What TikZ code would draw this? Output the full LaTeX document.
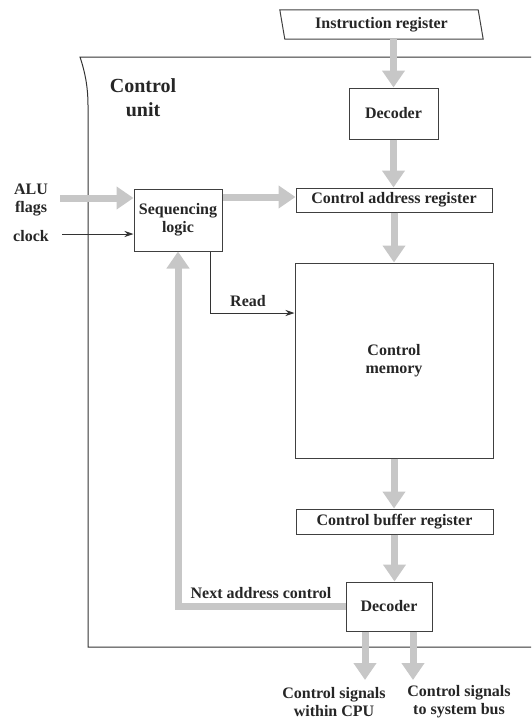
\documentclass[tikz,border=0pt]{standalone}
\usepackage{fontspec}
\setmainfont{Liberation Serif}
\usetikzlibrary{arrows.meta}
\begin{document}
\begin{tikzpicture}[x=1pt,y=-1pt,
  font=\fontsize{16}{18}\selectfont\bfseries,
  txt/.style={text=black!85, align=center, inner sep=0pt},
  unitbox/.style={draw=black!75, line width=1pt, fill=white, txt},
  bus/.style={draw=black!22, line width=7pt, -{Triangle[width=22pt,length=17pt]}},
  wire/.style={draw=black!80, line width=1pt, -{Stealth[length=9pt,width=6pt]}},
]
\useasboundingbox (0,0) rectangle (531,720);

% control unit frame, open to the right
\draw[black!80, line width=1pt] (531,57) -- (80,57) .. controls (86,75) and (88,90) .. (88,105) -- (88,647) -- (531,647);

\node[txt, font=\fontsize{20}{24}\selectfont\bfseries] (cu) at (143,98) {Control\\unit};

% instruction register (slanted box)
\node[txt, minimum width=198pt, minimum height=29pt] (ir) at (381.5,24.5) {Instruction register};
\draw[black!75, line width=1pt] ([xshift=-2.5pt]ir.north west) -- ([xshift=-2.5pt]ir.north east)
  -- ([xshift=2.5pt]ir.south east) -- ([xshift=2.5pt]ir.south west) -- cycle;

% functional blocks
\node[unitbox, minimum width=89pt, minimum height=51pt] (dec1) at (393.5,113.5) {Decoder};
\node[unitbox, minimum width=196pt, minimum height=24pt] (car) at (394,200) {Control address register};
\node[unitbox, minimum width=88pt, minimum height=62pt] (seq) at (178,220) {Sequencing\\logic};
\node[unitbox, minimum width=198pt, minimum height=195pt] (cm) at (394,360.5) {Control\\memory};
\node[unitbox, minimum width=197pt, minimum height=25pt] (cbr) at (394.5,521.5) {Control buffer register};
\node[unitbox, minimum width=86pt, minimum height=49pt] (dec2) at (389,606.5) {Decoder};

% labels
\node[txt] (alu) at (31,200) {ALU\\flags};
\node[txt] (clk) at (31,236) {clock};
\node[txt] (read) at (248,301) {Read};
\node[txt] (nac) at (261,593) {Next address control};
\node[txt] (sigcpu) at (334,702) {Control signals\\within CPU};
\node[txt] (sigbus) at (459,702) {Control signals\\to system bus};

% free ends and bends
\coordinate (aluin) at (60,198);
\coordinate (clkin) at (62,234);
\coordinate (busy) at (260,197);
\coordinate (rd) at (210,313);
\coordinate (outcpu) at (365,680);
\coordinate (outbus) at (413,680);

% data paths
\draw[bus] (dec1.north |- ir.south) -- (dec1.north);
\draw[bus] (dec1.south) -- (dec1.south |- car.north);
\draw[bus] (car.south) -- (car.south |- cm.north);
\draw[bus] (cm.south) -- (cm.south |- cbr.north);
\draw[bus] (cbr.south) -- (cbr.south |- dec2.north);
\draw[bus] (aluin) -- (aluin -| seq.west);
\draw[bus] (seq.east |- busy) -- (car.west |- busy);
\draw[bus] (dec2.west) -| (seq.south);
\draw[bus] (dec2.south -| outcpu) -- (outcpu);
\draw[bus] (dec2.south -| outbus) -- (outbus);

% control lines
\draw[wire] (clkin) -- (clkin -| seq.west);
\draw[wire] (seq.south -| rd) |- (cm.west |- rd);
\end{tikzpicture}
\end{document}
